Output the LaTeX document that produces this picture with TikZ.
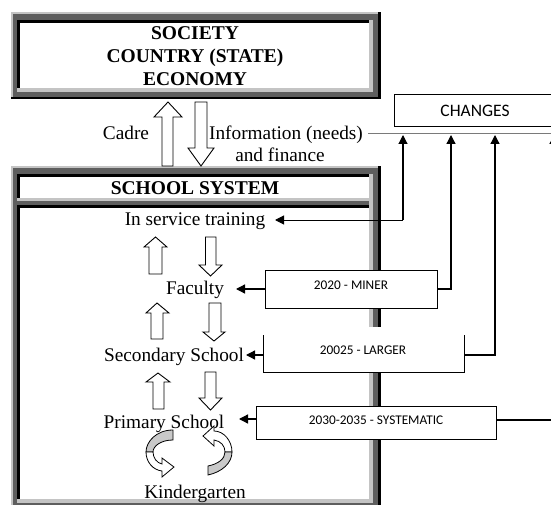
\documentclass[tikz,border=0pt]{standalone}
\usepackage{fontspec}
\setmainfont{Liberation Serif}
\newfontfamily\calfont{Carlito}
\usetikzlibrary{arrows.meta}
\definecolor{dg}{HTML}{5E5E5E}
\definecolor{lg}{HTML}{C4C4C4}
\definecolor{rib}{HTML}{C9C9C9}
\definecolor{ln}{HTML}{7A7A7A}
% 3D frame: outer x1,y1,x2,y2 (y downwards)
\newcommand{\tdframe}[4]{%
  \fill[dg] (#1,#2) rectangle (#3,#4);
  \fill[lg] (#1,#2) rectangle (#3,#2+2.5);
  \fill[lg] (#1,#2) rectangle (#1+2,#4);
  \fill[black] (#1,#4-2) rectangle (#3,#4);
  \fill[black] (#3-3,#2) rectangle (#3,#4);
  \fill[black] (#1+6,#2+8) rectangle (#3-12,#2+11);
  \fill[black] (#1+6,#2+8) rectangle (#1+9,#4-11);
  \fill[lg] (#1+6,#4-11) rectangle (#3-8,#4-7);
  \fill[lg] (#3-12,#2+8) rectangle (#3-8,#4-7);
  \fill[white] (#1+9,#2+11) rectangle (#3-12,#4-11);
}
\tikzset{
  bigtxt/.style={inner sep=0pt, anchor=base, font=\fontsize{19.5}{23}\selectfont\bfseries},
  txt/.style={inner sep=0pt, anchor=base, font=\fontsize{19.3}{23}\selectfont},
  caltxt/.style={inner sep=0pt, anchor=base, font=\calfont\fontsize{13.3}{16}\selectfont},
  chgtxt/.style={inner sep=0pt, anchor=base, font=\calfont\fontsize{17.5}{20}\selectfont},
  yearbox/.style={draw=black, line width=0.9pt, fill=white, inner sep=0pt, outer sep=0pt},
  hollow/.style={draw=black, line width=0.9pt, fill=white, line join=miter},
  conn/.style={draw=black, line width=1.3pt},
  tip/.style={-{Triangle[length=9pt,width=9pt]}},
  ribbon/.style={draw=black, line width=0.8pt},
}
\begin{document}
\begin{tikzpicture}[x=1pt,y=-1pt]
\useasboundingbox (0,0) rectangle (551,505);
\clip (0,0) rectangle (551,505);
\fill[white] (0,0) rectangle (551,505);

% frames
\tdframe{11}{12}{381}{99}
\tdframe{11}{166}{381}{510}
\fill[lg] (17,197.5) rectangle (373,200.5);
\fill[dg] (13,200.5) rectangle (378,205);
\fill[black] (17,205) rectangle (369,208);
\fill[lg] (369,197.5) rectangle (373,208);

% texts of society box
\node[bigtxt] (society) at (195,40) {SOCIETY};
\node[bigtxt] (country) at (195,63) {COUNTRY (STATE)};
\node[bigtxt] (economy) at (195,86) {ECONOMY};
\node[bigtxt] (school) at (195,194.5) {SCHOOL SYSTEM};

% hollow arrows between society and school
\draw[hollow] (162,166) -- (162,117) -- (154,117) -- (168,102) -- (182,117) -- (173,117) -- (173,166) -- cycle;
\draw[hollow] (195,102) -- (195,148) -- (188,148) -- (201,166) -- (214,148) -- (207,148) -- (207,102) -- cycle;
\node[txt] (cadre) at (126,140) {Cadre};
\node[txt] (info) at (286,140) {Information (needs)};
\node[txt] (finance) at (280,162) {and finance};

% CHANGES box
\node[draw=black, line width=0.9pt, fill=white, inner sep=0pt, minimum width=166, minimum height=32] (changes) at (477,110) {};
\node[chgtxt] (chglabel) at (475,117) {CHANGES};
\coordinate (infoend) at (368,134);
\coordinate (lineend) at (560,134);
\draw[ln, line width=1pt] (infoend) -- (lineend);

% school levels
\node[txt] (inservice) at (195,225) {In service training};
\node[txt] (faculty) at (195,294) {Faculty};
\node[txt] (secondary) at (174,361) {Secondary School};
\node[txt] (primary) at (164,428.5) {Primary School};
\node[txt] (kinder) at (195,498) {Kindergarten};

% hollow arrows inside school
\draw[hollow] (149,274) -- (149,247) -- (144,247) -- (155.5,237) -- (167,247) -- (162,247) -- (162,274) -- cycle;
\draw[hollow] (205.5,237) -- (205.5,265) -- (199,265) -- (210.5,276) -- (222,265) -- (216,265) -- (216,237) -- cycle;
\draw[hollow] (151,339) -- (151,313) -- (146,313) -- (157,303) -- (169,313) -- (163,313) -- (163,339) -- cycle;
\draw[hollow] (209,303) -- (209,332) -- (203,332) -- (214,341) -- (225,332) -- (221,332) -- (221,303) -- cycle;
\draw[hollow] (153,409) -- (153,382) -- (146,382) -- (158,373) -- (170,382) -- (164,382) -- (164,409) -- cycle;
\draw[hollow] (205,372) -- (205,398) -- (199,398) -- (210.5,410) -- (222,398) -- (216,398) -- (216,372) -- cycle;

% circular ribbon arrows
\draw[ribbon, fill=rib] (173,430) -- (173,440) .. controls (161,440) and (153,446) .. (153,452) -- (146,452) .. controls (146,442) and (156,430) .. (173,430) -- cycle;
\draw[ribbon, fill=white] (146,452) .. controls (146,462) and (153,470) .. (162,471) -- (162,477) -- (174,467) -- (162,458) -- (162,464) .. controls (157,463) and (153,458) .. (153,452) -- cycle;
\draw[ribbon, fill=white] (214,431) .. controls (224,431) and (232,441) .. (232,452) -- (225,452) .. controls (225,446) and (221,441) .. (214,440) -- (214,446) -- (203,436) -- (214,426) -- cycle;
\draw[ribbon, fill=rib] (232,452) .. controls (232,463) and (222,472) .. (208,475) -- (208,466) .. controls (218,464) and (225,459) .. (225,452) -- cycle;

% year boxes
\node[yearbox, minimum width=172, minimum height=38] (miner) at (351,289) {};
\node[caltxt] (minerlabel) at (351,289) {2020 - MINER};
\fill[white] (263,327) rectangle (464,372);
\node[inner sep=0pt, outer sep=0pt, minimum width=201, minimum height=37] (larger) at (363.5,353.5) {};
\draw[line width=0.9pt] (larger.north west) -- (larger.south west) -- (larger.south east) -- (larger.north east);
\node[caltxt] (largerlabel) at (363,354) {20025 - LARGER};
\node[yearbox, minimum width=240, minimum height=33] (systematic) at (376,422.5) {};
\node[caltxt] (systlabel) at (376,424) {2030-2035 - SYSTEMATIC};

% connectors
\coordinate (c0) at (403,220);
\coordinate (t0) at (403,135);
\coordinate (s0) at (275,220);
\draw[conn, line width=1pt, tip] (c0) -- (s0);
\draw[conn, line width=1.1pt, tip] (c0) -- (t0);

\coordinate (c1) at (451,289);
\coordinate (t1) at (451,135);
\draw[conn, tip] (miner.west) -- (236,289);
\draw[conn, tip] (miner.east) -- (c1) -- (t1);

\coordinate (c2) at (495,355);
\coordinate (t2) at (495,135);
\draw[conn, tip] (larger.west |- c2) -- (246,355);
\draw[conn, tip] (larger.east |- c2) -- (c2) -- (t2);

\coordinate (c3) at (554,420);
\coordinate (t3) at (554,135);
\draw[conn, tip] (systematic.west |- 0,419) -- (239,419);
\draw[conn, tip] (systematic.east |- c3) -- (c3) -- (t3);
\end{tikzpicture}
\end{document}
